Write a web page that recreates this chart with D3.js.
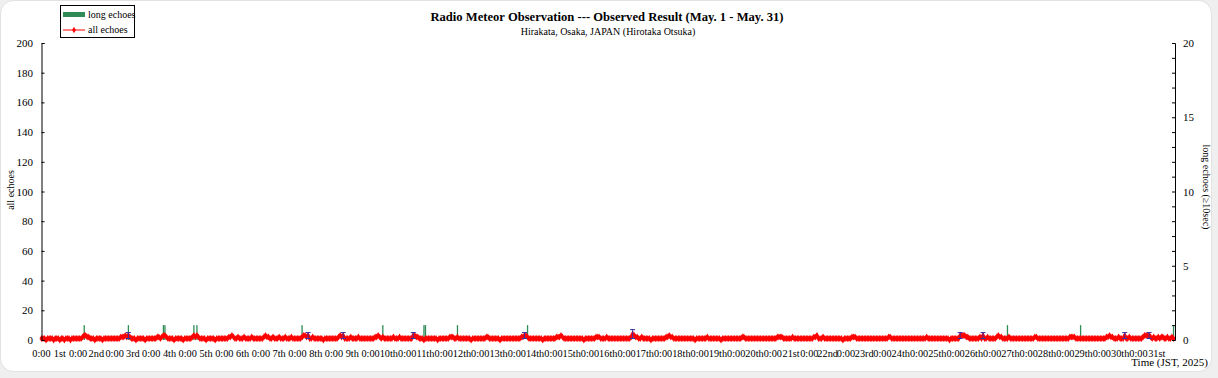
<!DOCTYPE html>
<html><head><meta charset="utf-8">
<script src="https://cdn.jsdelivr.net/npm/d3@7"></script>
<style>
html,body{margin:0;padding:0;background:#efefef;}
svg{display:block;}
</style></head>
<body>
<svg id="c" width="1218" height="378"></svg>
<script>
// ---- data ----
const title = "Radio Meteor Observation --- Observed Result (May. 1 - May. 31)";
const subtitle = "Hirakata, Osaka, JAPAN (Hirotaka Otsuka)";
const dayLabels = ["1st","2nd","3rd","4th","5th","6th","7th","8th","9th","10th","11th","12th","13th","14th","15th","16th","17th","18th","19th","20th","21st","22nd","23rd","24th","25th","26th","27th","28th","29th","30th","31st"];
const leftTicks = [0,20,40,60,80,100,120,140,160,180,200];
const rightTicks = [0,5,10,15,20];
// hourly all-echo counts, one row per day (hours 0..23)
const allEchoes = [
 [1,1,1,0,1,1,1,1,0,1,1,1,0,1,1,0,1,1,1,0,1,1,1,1],
 [1,1,1,2,3,3,2,2,1,1,1,0,1,1,1,1,0,1,1,1,1,1,1,1],
 [1,1,1,1,2,2,2,3,2,3,2,1,1,1,0,1,1,1,1,1,0,1,1,1],
 [1,1,1,1,2,2,1,2,3,3,2,1,1,1,1,0,1,1,1,1,1,0,1,1],
 [1,1,1,2,3,2,3,2,1,1,1,1,0,1,1,1,1,1,0,1,1,1,1,1],
 [1,1,1,2,2,3,2,1,1,2,1,1,1,2,1,1,1,1,2,1,1,1,1,1],
 [1,1,2,3,2,2,1,1,2,1,1,1,2,1,1,1,2,1,1,1,2,1,1,1],
 [1,1,1,2,3,3,2,3,1,1,2,1,1,1,1,1,1,0,1,1,1,1,1,1],
 [1,1,1,2,3,2,3,1,1,1,1,2,1,1,1,1,2,1,1,1,1,1,1,1],
 [1,1,1,2,2,3,2,1,2,1,1,1,1,1,1,2,1,1,1,2,1,1,1,1],
 [1,1,1,1,3,3,2,2,1,1,1,0,1,1,1,1,1,1,1,1,0,1,1,1],
 [1,1,1,1,2,2,2,1,1,2,1,1,1,1,1,1,1,1,0,1,1,1,1,1],
 [1,1,1,1,2,2,1,1,1,1,1,1,1,0,1,1,1,1,1,1,1,1,1,1],
 [1,1,1,2,2,3,3,2,1,1,1,1,1,1,1,1,1,0,1,1,1,1,1,1],
 [1,1,2,2,2,3,2,1,1,1,1,1,1,1,1,1,1,1,1,1,0,1,1,1],
 [1,1,1,1,2,2,2,1,1,1,1,2,1,1,1,1,1,1,1,1,1,1,1,1],
 [1,1,1,2,4,3,2,2,1,1,2,1,1,1,1,1,0,1,1,1,1,1,1,1],
 [1,1,2,2,3,2,2,1,1,1,1,1,1,1,1,1,1,1,1,1,1,0,1,1],
 [1,1,1,1,1,2,1,1,1,1,1,1,1,1,0,1,1,1,1,1,1,1,1,1],
 [1,1,1,1,2,2,1,1,1,1,1,1,1,1,1,1,1,1,1,1,1,1,1,1],
 [1,1,1,2,2,2,2,1,1,1,1,1,1,2,1,1,1,1,1,1,1,1,1,1],
 [1,1,1,2,2,3,1,1,1,2,1,1,1,1,1,1,1,1,1,1,1,1,0,1],
 [1,1,1,1,2,2,2,1,1,1,1,1,1,1,1,1,1,1,1,1,1,1,1,1],
 [1,1,1,1,2,2,1,1,1,1,1,1,1,1,1,1,1,1,1,1,1,1,1,1],
 [1,1,1,1,1,2,1,1,1,1,1,1,1,1,1,1,1,1,1,1,0,1,1,1],
 [1,1,1,3,3,3,3,2,2,1,1,1,1,1,1,1,2,1,3,1,1,2,1,1],
 [1,1,1,2,3,2,2,1,1,1,1,2,1,1,1,1,1,1,1,1,1,1,1,1],
 [1,1,1,1,2,2,1,1,1,1,1,1,1,1,1,1,1,1,1,1,1,1,1,1],
 [1,1,1,2,2,2,2,1,1,1,1,1,1,1,1,1,1,1,1,1,1,1,1,1],
 [1,1,1,2,2,3,2,2,1,1,1,2,1,1,1,3,1,1,2,1,1,1,1,1],
 [1,1,1,2,3,3,3,3,2,1,2,1,1,2,1,2,2,1,1,2,1,1,2,1]
];
// error bars: hour index (from May 1 0:00) and half-length in counts
const errHours = [57,175,198,244,317,388,603,618,711,727];
const errSizes = [2,2,2,2,2,3,2,2,2,2];
// long echoes: hour index and count
const longHours = [28,57,80,81,100,102,171,224,251,252,273,319,634,682,743];
const longCounts = [1,1,1,1,1,1,1,1,1,1,1,1,1,1,1];

// ---- chart ----
const svg = d3.select("#c");
const L = 41.5, R = 1175, T = 43, B = 340;
const serif = "'Liberation Serif','Times New Roman',serif";

svg.append("rect").attr("x",0.5).attr("y",0.5).attr("width",1211).attr("height",371)
  .attr("rx",13).attr("fill","#fff").attr("stroke","#e2e2e2");

const nHours = dayLabels.length*24;
const x = d3.scaleLinear().domain([0,nHours]).range([L,R]);
const yL = d3.scaleLinear().domain([0,200]).range([B,T]);
const yR = d3.scaleLinear().domain([0,20]).range([B,T]);

const series = allEchoes.flat().map((v,i)=>({h:i,v}));

// long echo bars
svg.append("g").selectAll("rect").data(longHours.map((h,i)=>({h,c:longCounts[i]})))
  .join("rect").attr("x",d=>x(d.h)-0.6).attr("width",1.3)
  .attr("y",d=>yR(d.c)).attr("height",d=>yR(0)-yR(d.c)).attr("fill","#2e8b57");

// line
svg.append("path").datum(series)
  .attr("d",d3.line().x(d=>x(d.h)).y(d=>yL(d.v)))
  .attr("fill","none").attr("stroke","#ff0000").attr("stroke-width",2.4);
svg.append("g").selectAll("path").data(series).join("path")
  .attr("transform",d=>`translate(${x(d.h)},${yL(d.v)})`)
  .attr("d",d3.symbol(d3.symbolDiamond,14)).attr("fill","#ff0000");

// error bars
const eb = svg.append("g").attr("stroke","#3a2fa0").attr("stroke-width",1);
errHours.forEach((h,i)=>{
  const v = series[h].v, e = errSizes[i];
  const xx = x(h), y1 = yL(v+e), y0 = yL(Math.max(0,v-e));
  eb.append("line").attr("x1",xx).attr("x2",xx).attr("y1",y1).attr("y2",y0);
  eb.append("line").attr("x1",xx-2.5).attr("x2",xx+2.5).attr("y1",y1).attr("y2",y1);
  eb.append("line").attr("x1",xx-2.5).attr("x2",xx+2.5).attr("y1",y0).attr("y2",y0);
});

// left axis
const gl = svg.append("g").attr("transform",`translate(${L},0)`)
  .call(d3.axisRight(yL).tickValues(leftTicks).tickSize(3).tickFormat(""));
gl.select(".domain").attr("stroke","#000");
svg.append("g").selectAll("text").data(leftTicks).join("text")
  .attr("x",33).attr("y",d=>yL(d)+4).attr("text-anchor","end")
  .attr("font-family",serif).attr("font-size",11).text(d=>d);

// right axis
const gr = svg.append("g").attr("transform",`translate(${R},0)`)
  .call(d3.axisLeft(yR).ticks(20).tickSize(3).tickFormat(""));
gr.select(".domain").attr("stroke","#000");
svg.append("g").selectAll("text").data(rightTicks).join("text")
  .attr("x",1183).attr("y",d=>yR(d)+4).attr("text-anchor","start")
  .attr("font-family",serif).attr("font-size",11).text(d=>d);

// x labels
const xt = d3.range(0,nHours,12);
svg.append("g").selectAll("text").data(xt).join("text")
  .attr("x",d=>x(d)).attr("y",357).attr("text-anchor","middle")
  .attr("font-family",serif).attr("font-size",10.3)
  .text(d=> (d/12)%2===0 ? "0:00" : dayLabels[Math.floor(d/24)]);

// titles
svg.append("text").attr("x",607).attr("y",21).attr("text-anchor","middle")
  .attr("font-family",serif).attr("font-size",12.6).attr("font-weight","bold").text(title);
svg.append("text").attr("x",608).attr("y",35).attr("text-anchor","middle")
  .attr("font-family",serif).attr("font-size",10).text(subtitle);
svg.append("text").attr("transform","translate(14,190) rotate(-90)").attr("text-anchor","middle")
  .attr("font-family",serif).attr("font-size",10).text("all echoes");
svg.append("text").attr("transform","translate(1203,187) rotate(90)").attr("text-anchor","middle")
  .attr("font-family",serif).attr("font-size",10).text("long echoes (\u226510sec)");
svg.append("text").attr("x",1208).attr("y",366).attr("text-anchor","end")
  .attr("font-family",serif).attr("font-size",11).text("Time (JST, 2025)");

// legend
const lg = svg.append("g");
lg.append("rect").attr("x",60.5).attr("y",5.5).attr("width",74).attr("height",32)
  .attr("fill","#fff").attr("stroke","#000");
lg.append("rect").attr("x",63).attr("y",12).attr("width",22).attr("height",5).attr("fill","#2e8b57");
lg.append("text").attr("x",88).attr("y",17.5).attr("font-family",serif).attr("font-size",10).text("long echoes");
lg.append("line").attr("x1",63).attr("x2",85).attr("y1",30).attr("y2",30).attr("stroke","#ff0000");
lg.append("path").attr("transform","translate(74,30)").attr("d",d3.symbol(d3.symbolDiamond,12)).attr("fill","#ff0000");
lg.append("text").attr("x",88).attr("y",33).attr("font-family",serif).attr("font-size",10).text("all echoes");
</script>
</body></html>
